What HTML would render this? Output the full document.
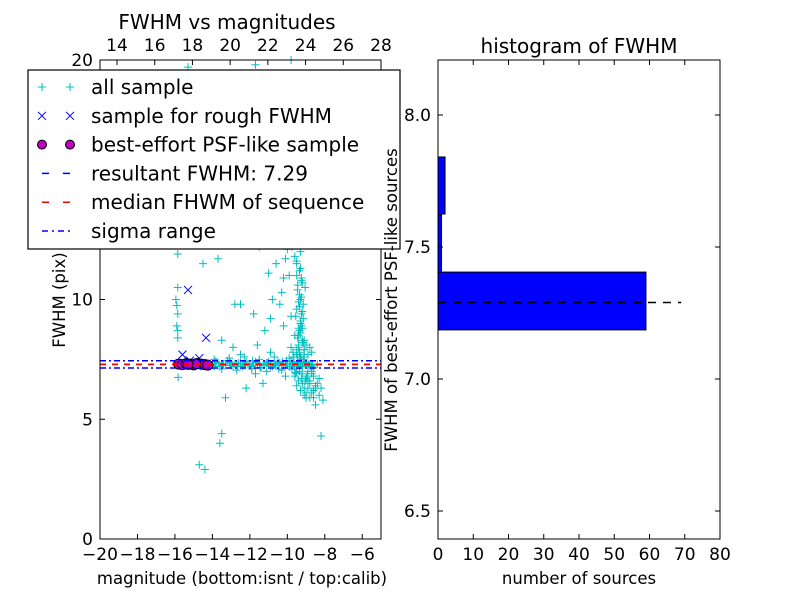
<!DOCTYPE html>
<html><head><meta charset="utf-8"><style>
html,body{margin:0;padding:0;background:#fff}
svg{display:block;font-family:"DejaVu Sans","Liberation Sans",sans-serif}
</style></head><body>
<svg id="chart" width="800" height="600" viewBox="0 0 800 600" xmlns="http://www.w3.org/2000/svg">
<rect width="800" height="600" fill="#fff"/>
<g id="left"></g>
<g id="right"></g>
</svg>
<script>
// ---- scatter data ----
const allMag = [
-15.85,-15.85,-15.9,-15.85,-15.9,-15.85,-15.85,-15.83,-15.9,-15.3,-14.5,-13.7,-16.0,-15.95,
-15.6,-15.4,-15.2,-15.0,-14.8,-14.6,-14.4,-14.2,-14.0,-13.8,-13.6,-13.4,-13.2,-13.0,-12.8,-12.6,-12.4,-12.2,-12.0,-11.8,-11.6,-11.4,-11.2,-11.0,-10.8,-10.6,-10.4,-10.2,-10.0,-9.8,-9.6,-9.4,-9.2,-9.0,-8.8,-8.6,-8.4,
-13.9,-13.7,-13.5,-13.3,-13.1,-12.9,-12.7,-12.5,-12.3,-12.1,-11.9,-11.7,-11.5,-11.3,-11.1,-10.9,-10.7,-10.5,-10.3,-10.1,-9.9,-9.7,-9.5,-9.3,-9.1,-8.9,-8.7,
-13.85,-13.45,-13.05,-12.65,-12.25,-11.85,-11.45,-11.05,-10.65,-10.25,-9.85,-9.45,-9.05,-8.65,-10.45,-10.05,-9.65,-9.25,
-13.9,-13.5,-13.1,-12.7,-12.3,-11.9,-11.5,-11.1,-10.7,-10.3,-9.9,-9.5,-9.1,-8.7,-12.5,-11.7,-10.9,-10.1,
-13.5,-13.3,-12.9,-12.2,-11.6,-11.3,-12.5,-14.7,-14.4,-13.6,-13.5,-8.2,-8.5,
-9.75,-9.6,-9.5,-9.4,-9.3,-9.5,-9.45,-9.35,-9.3,-9.25,-9.4,-9.5,-9.55,-9.3,-9.2,-9.35,-9.45,-9.25,-9.4,-9.3,-9.5,-9.35,-9.2,-9.15,-9.3,-9.4,-9.1,-9.0,-9.2,-9.05,
-9.35,-9.25,-9.45,-9.15,-9.3,-9.4,-9.2,-9.1,-9.35,-9.25,-9.5,-9.3,-9.2,-9.4,-9.1,-9.3,-9.25,-9.35,-9.15,-9.45,
-9.8,-9.7,-9.6,-9.5,-9.4,-9.3,-9.2,-9.1,-9.0,-8.9,-8.8,-8.7,-9.6,-9.4,-9.2,-9.0,-8.8,-9.5,-9.1,-8.9,-8.6,
-9.75,-9.55,-9.35,-9.15,-8.95,-8.75,-9.65,-9.45,-9.25,-9.05,-8.85,
-9.3,-9.1,-8.9,-8.7,-8.5,-8.3,-9.0,-8.8,-8.6,-8.4,-8.2,-8.6,-8.1,-8.9,-8.3,-9.2,-9.0,-8.8,-8.7,-8.5,
-10.4,-10.2,-10.6,-10.9,-11.2,-10.0,-10.3,-9.9,-10.5,-10.8,-11.0,-12.3,-11.5,-10.7,-11.8,-12.8,-10.2,-9.8,-10.1,-9.9,-9.7,
-15.3,-11.7,-9.8,-11.0,-10.0,-9.6,-9.5,-9.4,-9.3,-9.6,-9.7,-9.2
];
const allFwhm = [
11.9,10.5,9.75,9.4,8.9,8.7,8.4,6.75,12.3,13.5,11.5,11.7,13.2,10.0,
7.3,7.35,7.25,7.3,7.4,7.2,7.35,7.3,7.25,7.4,7.2,7.3,7.45,7.25,7.3,7.35,7.2,7.4,7.3,7.25,7.35,7.15,7.3,7.4,7.2,7.3,7.35,7.25,7.3,7.4,7.1,7.3,7.2,7.35,7.25,7.15,7.3,
7.2,7.35,7.3,7.25,7.4,7.2,7.3,7.35,7.25,7.3,7.2,7.4,7.3,7.25,7.35,7.2,7.3,7.4,7.25,7.3,7.2,7.35,7.3,7.25,7.4,7.2,7.3,
7.4,7.25,7.35,7.2,7.3,7.45,7.15,7.35,7.25,7.4,7.2,7.35,7.3,7.25,7.1,7.45,7.2,7.5,
7.5,7.1,7.55,7.05,7.6,7.1,7.5,7.0,7.6,7.05,7.55,6.95,7.6,7.0,7.7,6.9,7.8,6.8,
8.3,5.9,8.0,6.3,8.1,6.5,9.8,3.1,2.9,4.0,4.4,4.3,5.6,
12.2,11.8,11.5,12.6,12.0,11.0,10.6,10.2,11.3,10.8,9.9,9.6,9.3,9.0,9.5,8.7,8.4,8.9,8.1,8.6,7.9,7.8,8.2,9.2,10.0,13.0,13.5,12.8,14.2,10.5,
11.2,10.9,10.4,9.8,9.1,8.5,8.8,8.3,9.7,10.1,11.6,12.4,10.7,8.0,7.9,8.6,9.4,7.7,8.2,7.6,
8.0,7.8,8.5,7.7,8.8,7.6,8.3,7.9,8.1,7.7,8.0,7.8,6.8,6.6,6.9,6.7,6.5,6.4,6.3,6.6,6.8,
7.1,6.9,7.0,7.5,6.8,7.2,7.6,7.4,6.7,6.6,7.3,
6.2,6.0,6.3,6.1,6.4,6.0,5.9,6.6,6.2,6.5,6.3,5.9,5.8,7.0,6.7,6.5,6.1,5.9,6.9,6.3,
9.8,10.9,11.5,9.2,8.7,12.1,10.3,11.0,12.7,10.0,11.1,13.7,12.2,13.3,9.4,9.8,8.9,9.3,11.7,12.9,14.5,
19.7,19.8,20.0,18.0,16.0,15.2,16.6,17.5,18.6,14.8,16.9,15.6
];
const roughMag = [-15.3,-14.34,-15.6,-14.7,-15.2];
const roughFwhm = [10.4,8.4,7.7,7.55,7.45];
const bestMag = [-15.8,-15.6,-15.4,-15.2,-15.0,-14.8,-14.6,-14.4,-14.25,-14.9,-15.3];
const bestFwhm = [7.3,7.28,7.32,7.3,7.27,7.33,7.3,7.28,7.26,7.31,7.29];
const resultFwhm = 7.29;
const sigmaFwhm = 0.15;
// ---- histogram data ----
const binEdges = [7.186,7.405,7.625,7.841];
const binCounts = [59,1,2];

const NS="http://www.w3.org/2000/svg";
function mk(parent,tag,attrs,text){const e=document.createElementNS(NS,tag);for(const k in attrs)e.setAttribute(k,attrs[k]);if(text!==undefined)e.textContent=text;parent.appendChild(e);return e;}

const TF=17;
// left axes
const L={x0:100,x1:381,y0:60,y1:539};
const xL=m=>L.x0+(m+20)/15*(L.x1-L.x0);
const yL=f=>L.y1-f/20*(L.y1-L.y0);
const xTop=c=>117+(c-14)*(264/14);
const gl=document.getElementById('left');

allMag.forEach((m,i)=>{
 const x=xL(m),y=yL(allFwhm[i]);
 if(y<L.y0||y>L.y1)return;
 const p=mk(gl,'path',{d:`M${x-4},${y}H${x+4}M${x},${y-4}V${y+4}`,stroke:'#00bfbf','stroke-width':1});
 
 
});
roughMag.forEach((m,i)=>{
 const x=xL(m),y=yL(roughFwhm[i]);
 const p=mk(gl,'path',{d:`M${x-4},${y-4}L${x+4},${y+4}M${x-4},${y+4}L${x+4},${y-4}`,stroke:'#0000ff','stroke-width':1});
 
 
});
bestMag.forEach((m,i)=>{
 const c=mk(gl,'circle',{cx:xL(m),cy:yL(bestFwhm[i]),r:5,fill:'#bf00bf',stroke:'#000','stroke-width':1});
 
 
});
const ln=(f,col,dash,name)=>{const e=mk(gl,'line',{x1:L.x0,x2:L.x1,y1:yL(f),y2:yL(f),stroke:col,'stroke-width':1.5,'stroke-dasharray':dash});
 
 };
ln(resultFwhm,'#0000ff','6,6','resultant-fwhm-line');
ln(resultFwhm,'#ff0000','6,6','median-fwhm-line');
ln(resultFwhm-sigmaFwhm,'#0000ff','6,3,2,3','sigma-low-line');
ln(resultFwhm+sigmaFwhm,'#0000ff','6,3,2,3','sigma-high-line');
mk(gl,'rect',{x:L.x0,y:L.y0,width:L.x1-L.x0,height:L.y1-L.y0,fill:'none',stroke:'#000','stroke-width':1});
for(let v=-20;v<=-6;v+=2){const x=xL(v);
 mk(gl,'path',{d:`M${x},${L.y1}v-5`,stroke:'#000'});
 mk(gl,'text',{x:x,y:560,'font-size':TF,'text-anchor':'middle'},(v<0?'\u2212':'')+Math.abs(v));}
for(let v=14;v<=28;v+=2){const x=xTop(v);
 mk(gl,'path',{d:`M${x},${L.y0}v5`,stroke:'#000'});
 mk(gl,'text',{x:x,y:51,'font-size':TF,'text-anchor':'middle'},v);}
for(let v=0;v<=20;v+=5){const y=yL(v);
 mk(gl,'path',{d:`M${L.x0},${y}h5M${L.x1},${y}h-5`,stroke:'#000'});
 mk(gl,'text',{x:93,y:y+6,'font-size':TF,'text-anchor':'end'},v);}
mk(gl,'text',{x:242,y:584,'font-size':16.5,'text-anchor':'middle',},'magnitude (bottom:isnt / top:calib)');
mk(gl,'text',{x:65,y:300,'font-size':16.5,'text-anchor':'middle',transform:'rotate(-90 65 300)',},'FWHM (pix)');
mk(gl,'text',{x:227,y:29,'font-size':20,'text-anchor':'middle',},'FWHM vs magnitudes');

// legend
const lg=mk(gl,'g',{});
mk(lg,'rect',{x:28,y:70,width:372,height:179,fill:'#fff',stroke:'#000','stroke-width':1.2});
const labels=['all sample','sample for rough FWHM','best-effort PSF-like sample','resultant FWHM: 7.29','median FHWM of sequence','sigma range'];
labels.forEach((t,i)=>{
 const y=87+i*28.8;
 const g=mk(lg,'g',{});
 
 
 [42,70].forEach(x=>{
  if(i==0)mk(g,'path',{d:`M${x-4},${y}H${x+4}M${x},${y-4}V${y+4}`,stroke:'#00bfbf'});
  if(i==1)mk(g,'path',{d:`M${x-4},${y-4}L${x+4},${y+4}M${x-4},${y+4}L${x+4},${y-4}`,stroke:'#0000ff'});
  if(i==2)mk(g,'circle',{cx:x,cy:y,r:4.5,fill:'#bf00bf',stroke:'#000'});
 });
 if(i==3)mk(g,'line',{x1:42,x2:70,y1:y,y2:y,stroke:'#0000ff','stroke-dasharray':'7,14','stroke-width':1.5});
 if(i==4)mk(g,'line',{x1:42,x2:70,y1:y,y2:y,stroke:'#ff0000','stroke-dasharray':'7,14','stroke-width':1.5});
 if(i==5)mk(g,'line',{x1:42,x2:70,y1:y,y2:y,stroke:'#0000ff','stroke-dasharray':'6,4,2,4','stroke-width':1.5});
 mk(g,'text',{x:91,y:y+7,'font-size':20},t);
});

// right histogram
const R={x0:438,x1:720,y0:60,y1:539};
const xR=c=>R.x0+c/80*(R.x1-R.x0);
const yR=f=>379-(f-7.0)*264;
const gr=document.getElementById('right');
binCounts.forEach((c,i)=>{
 const yt=yR(binEdges[i+1]),yb=yR(binEdges[i]);
 const r=mk(gr,'rect',{x:R.x0,y:yt,width:xR(c)-R.x0,height:yb-yt,fill:'#0000ff',stroke:'#000','stroke-width':1});
 
 
});
mk(gr,'line',{x1:R.x0,x2:xR(69),y1:yR(resultFwhm),y2:yR(resultFwhm),stroke:'#000','stroke-width':1.5,'stroke-dasharray':'8,7',});
mk(gr,'rect',{x:R.x0,y:R.y0,width:R.x1-R.x0,height:R.y1-R.y0,fill:'none',stroke:'#000','stroke-width':1});
for(let v=0;v<=80;v+=10){const x=xR(v);
 mk(gr,'path',{d:`M${x},${R.y1}v-5M${x},${R.y0}v5`,stroke:'#000'});
 mk(gr,'text',{x:x,y:560,'font-size':TF,'text-anchor':'middle'},v);}
[6.5,7.0,7.5,8.0].forEach(v=>{const y=yR(v);
 mk(gr,'path',{d:`M${R.x0},${y}h5M${R.x1},${y}h-5`,stroke:'#000'});
 mk(gr,'text',{x:431,y:y+6,'font-size':TF,'text-anchor':'end'},v.toFixed(1));});
mk(gr,'text',{x:579,y:584,'font-size':16.5,'text-anchor':'middle',},'number of sources');
mk(gr,'text',{x:397,y:300,'font-size':16.5,'text-anchor':'middle',transform:'rotate(-90 397 300)',},'FWHM of best-effort PSF-like sources');
mk(gr,'text',{x:579,y:53,'font-size':20,'text-anchor':'middle',},'histogram of FWHM');
</script>
</body></html>
